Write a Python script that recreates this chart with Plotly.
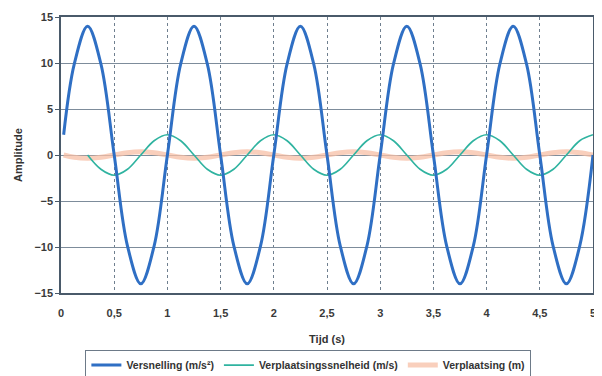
import plotly.graph_objects as go

# time (s)
tijd = [0.025, 0.125, 0.25, 0.375, 0.5, 0.625, 0.75, 0.875, 1.0,
        1.125, 1.25, 1.375, 1.5, 1.625, 1.75, 1.875, 2.0,
        2.125, 2.25, 2.375, 2.5, 2.625, 2.75, 2.875, 3.0,
        3.125, 3.25, 3.375, 3.5, 3.625, 3.75, 3.875, 4.0,
        4.125, 4.25, 4.375, 4.5, 4.625, 4.75, 4.875, 5.0]

versnelling = [2.2, 9.9, 14, 9.9, 0, -9.9, -14, -9.9, 0,
               9.9, 14, 9.9, 0, -9.9, -14, -9.9, 0,
               9.9, 14, 9.9, 0, -9.9, -14, -9.9, 0,
               9.9, 14, 9.9, 0, -9.9, -14, -9.9, 0,
               9.9, 14, 9.9, 0, -9.9, -14, -9.9, 0]

snelheid = [None, None, 0, -1.55, -2.2, -1.55, 0, 1.55, 2.2,
            1.55, 0, -1.55, -2.2, -1.55, 0, 1.55, 2.2,
            1.55, 0, -1.55, -2.2, -1.55, 0, 1.55, 2.2,
            1.55, 0, -1.55, -2.2, -1.55, 0, 1.55, 2.2,
            1.55, 0, -1.55, -2.2, -1.55, 0, 1.55, 2.2]

verplaatsing = [0, -0.25, -0.35, -0.25, 0, 0.25, 0.35, 0.25, 0,
                -0.25, -0.35, -0.25, 0, 0.25, 0.35, 0.25, 0,
                -0.25, -0.35, -0.25, 0, 0.25, 0.35, 0.25, 0,
                -0.25, -0.35, -0.25, 0, 0.25, 0.35, 0.25, 0,
                -0.25, -0.35, -0.25, 0, 0.25, 0.35, 0.25, 0]

x_ticks = [0, 0.5, 1, 1.5, 2, 2.5, 3, 3.5, 4, 4.5, 5]
y_ticks = [-15, -10, -5, 0, 5, 10, 15]

fig = go.Figure()
fig.add_trace(go.Scatter(x=tijd, y=verplaatsing, mode="lines", name="Verplaatsing (m)",
                         line=dict(color="#f7bfa6", width=5, shape="spline"), opacity=0.75))
fig.add_trace(go.Scatter(x=tijd, y=snelheid, mode="lines", name="Verplaatsingssnelheid (m/s)",
                         line=dict(color="#2fb3a0", width=1.6, shape="spline")))
fig.add_trace(go.Scatter(x=tijd, y=versnelling, mode="lines", name="Versnelling (m/s²)",
                         line=dict(color="#2f6fc4", width=3, shape="spline")))

fam = "Liberation Sans, Arial"
axis_font = dict(family=fam, size=11, color="#3a3a3a", weight="bold")
# page body has an 8px margin, so the figure is sized to fit the 602x376 window
fig.update_layout(
    width=594, height=368,
    margin=dict(l=53, r=9, t=9, b=83, autoexpand=False),
    paper_bgcolor="white", plot_bgcolor="white",
    separators=",.",
    showlegend=True,
    legend=dict(orientation="h", traceorder="reversed", x=0.465, xanchor="center",
                y=-0.205, yanchor="top", bordercolor="#6d7a88", borderwidth=1,
                font=dict(family=fam, size=10.5, color="#333", weight="bold"),
                itemwidth=30, tracegroupgap=0),
    xaxis=dict(range=[0, 5], tickvals=x_ticks, showgrid=True, gridcolor="#6f7f8f",
               griddash="dot", gridwidth=1, zeroline=False, showline=True,
               linecolor="#4a5a6a", linewidth=1.5, mirror=True, ticks="",
               tickfont=axis_font, ticklabelstandoff=9, automargin=False,
               ticklabeloverflow="allow",
               title=dict(text="Tijd (s)", font=dict(family=fam, size=11, color="#333", weight="bold"), standoff=17)),
    yaxis=dict(range=[-15, 15], tickvals=y_ticks, showgrid=True, gridcolor="#7d8c9b",
               gridwidth=1, zeroline=False, showline=True, linecolor="#4a5a6a",
               linewidth=1.5, mirror=True, ticks="outside", ticklen=4, tickcolor="#4a5a6a",
               tickfont=axis_font, automargin=False,
               title=dict(text="Amplitude", font=dict(family=fam, size=11, color="#333", weight="bold"), standoff=10)),
)
fig.write_html("out.html")
